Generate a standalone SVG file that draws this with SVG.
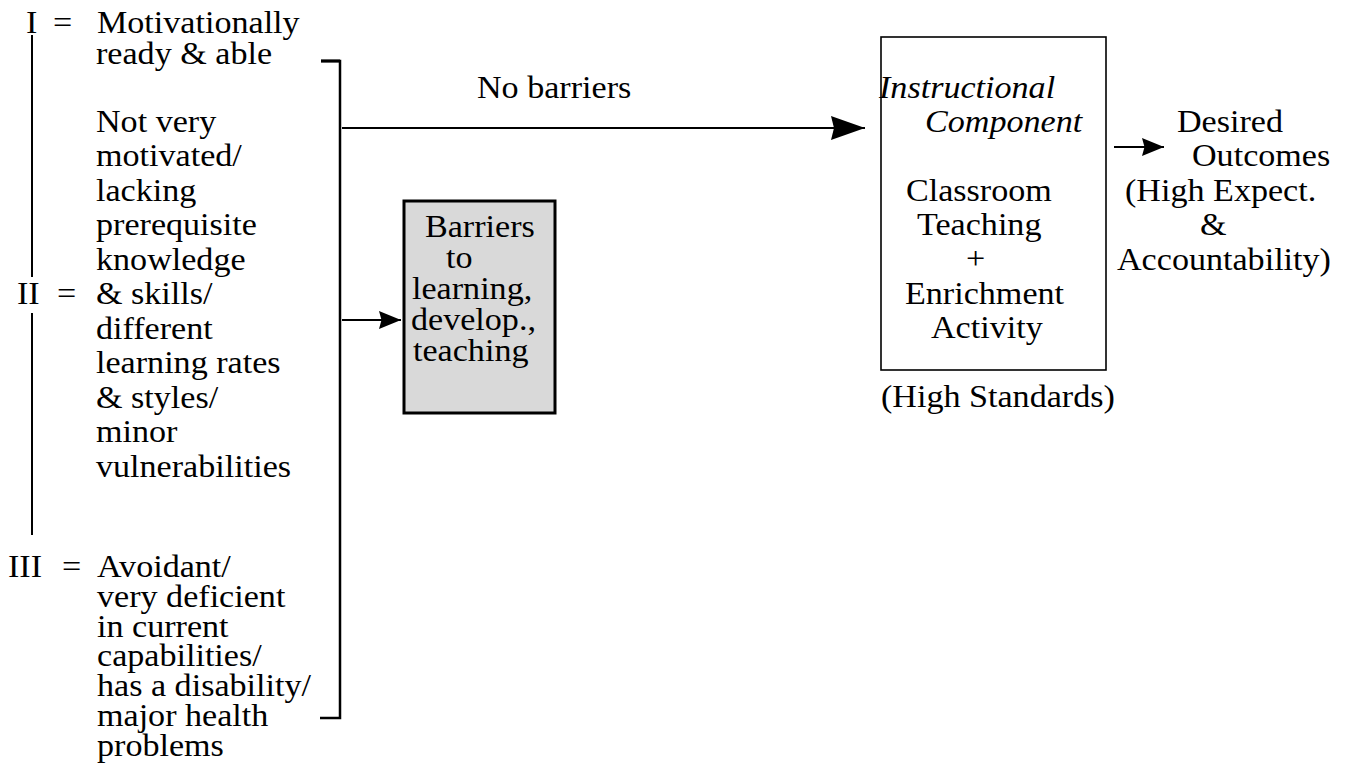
<svg xmlns="http://www.w3.org/2000/svg" width="1350" height="781" viewBox="0 0 1350 781">
  <style>
    .t { font-family: "Liberation Serif", "Times New Roman", serif; font-size: 31px; fill: #000; }
    .i { font-style: italic; }
    .ln { stroke: #000; fill: none; }
  </style>
  <defs>
    <marker id="headLong" markerUnits="userSpaceOnUse" markerWidth="38" markerHeight="26" refX="35" refY="13" orient="auto" overflow="visible">
      <path d="M1,1 L35,13 L1,25 L4,13 Z" fill="#000"/>
    </marker>
    <marker id="headShort" markerUnits="userSpaceOnUse" markerWidth="26" markerHeight="22" refX="23" refY="11" orient="auto" overflow="visible">
      <path d="M1,2 L23,11 L1,20 L3.5,11 Z" fill="#000"/>
    </marker>
  </defs>
  <rect width="1350" height="781" fill="#fff"/>

  <!-- Student groups -->
  <g id="group-I">
    <text class="t" transform="translate(26 33) scale(1.1 1)">I</text>
    <text class="t" transform="translate(53 33) scale(1.1 1)">=</text>
    <text class="t" transform="translate(97 33) scale(1.1 1)">Motivationally</text>
    <text class="t" transform="translate(96 64) scale(1.1 1)">ready &amp; able</text>
  </g>

  <g id="group-II">
    <text class="t" transform="translate(17 304) scale(1.1 1)">II</text>
    <text class="t" transform="translate(57 304) scale(1.1 1)">=</text>
    <text class="t" transform="translate(96 131.5) scale(1.1 1)">Not very</text>
    <text class="t" transform="translate(96 166) scale(1.1 1)">motivated/</text>
    <text class="t" transform="translate(96 200.5) scale(1.1 1)">lacking</text>
    <text class="t" transform="translate(96 235) scale(1.1 1)">prerequisite</text>
    <text class="t" transform="translate(96 269.5) scale(1.1 1)">knowledge</text>
    <text class="t" transform="translate(96 304) scale(1.1 1)">&amp; skills/</text>
    <text class="t" transform="translate(96 338.5) scale(1.1 1)">different</text>
    <text class="t" transform="translate(96 373) scale(1.1 1)">learning rates</text>
    <text class="t" transform="translate(96 407.5) scale(1.1 1)">&amp; styles/</text>
    <text class="t" transform="translate(96 442) scale(1.1 1)">minor</text>
    <text class="t" transform="translate(96 476.5) scale(1.1 1)">vulnerabilities</text>
  </g>

  <g id="group-III">
    <text class="t" transform="translate(8 577) scale(1.1 1)">III</text>
    <text class="t" transform="translate(62 577) scale(1.1 1)">=</text>
    <text class="t" transform="translate(97 577) scale(1.1 1)">Avoidant/</text>
    <text class="t" transform="translate(97 606.8) scale(1.1 1)">very deficient</text>
    <text class="t" transform="translate(97 636.6) scale(1.1 1)">in current</text>
    <text class="t" transform="translate(97 666.4) scale(1.1 1)">capabilities/</text>
    <text class="t" transform="translate(97 696.2) scale(1.1 1)">has a disability/</text>
    <text class="t" transform="translate(97 726) scale(1.1 1)">major health</text>
    <text class="t" transform="translate(97 755.8) scale(1.1 1)">problems</text>
  </g>

  <!-- Barriers box -->
  <g id="barriers">
    <rect x="404" y="201" width="151" height="212" fill="#d9d9d9" stroke="#000" stroke-width="3"/>
    <text class="t" transform="translate(425 237) scale(1.1 1)">Barriers</text>
    <text class="t" transform="translate(446 268) scale(1.1 1)">to</text>
    <text class="t" transform="translate(412 299) scale(1.1 1)">learning,</text>
    <text class="t" transform="translate(411 330) scale(1.1 1)">develop.,</text>
    <text class="t" transform="translate(413 361) scale(1.1 1)">teaching</text>
  </g>

  <!-- Instructional component -->
  <g id="instructional">
    <rect x="881" y="37" width="225" height="333" fill="none" stroke="#000" stroke-width="1.6"/>
    <text class="t i" transform="translate(879 98) scale(1.1 1)">Instructional</text>
    <text class="t i" transform="translate(925 131.5) scale(1.1 1)">Component</text>
    <text class="t" transform="translate(906 201) scale(1.1 1)">Classroom</text>
    <text class="t" transform="translate(917 235) scale(1.1 1)">Teaching</text>
    <text class="t" transform="translate(966 269) scale(1.1 1)">+</text>
    <text class="t" transform="translate(905 304) scale(1.1 1)">Enrichment</text>
    <text class="t" transform="translate(931 338) scale(1.1 1)">Activity</text>
    <text class="t" transform="translate(881 407) scale(1.1 1)">(High Standards)</text>
  </g>

  <!-- Outcomes -->
  <g id="outcomes">
    <text class="t" transform="translate(1177 131.5) scale(1.1 1)">Desired</text>
    <text class="t" transform="translate(1192 166) scale(1.1 1)">Outcomes</text>
    <text class="t" transform="translate(1125 201) scale(1.1 1)">(High Expect.</text>
    <text class="t" transform="translate(1200 235) scale(1.1 1)">&amp;</text>
    <text class="t" transform="translate(1117 269.5) scale(1.1 1)">Accountability)</text>
  </g>

  <!-- Connectors -->
  <g id="connectors">
    <!-- left spine of the I/II/III scale -->
    <line class="ln" x1="32" y1="35" x2="32" y2="277" stroke-width="2"/>
    <line class="ln" x1="32" y1="313" x2="32" y2="535" stroke-width="2"/>
    <!-- right bracket -->
    <path class="ln" d="M321,61 H340 V718 H320" stroke-width="2.5"/>
    <line class="ln" x1="321" y1="61" x2="340" y2="61" stroke-width="3"/>
    <!-- no barriers arrow -->
    <line class="ln" x1="342" y1="128" x2="865" y2="128" stroke-width="1.8" marker-end="url(#headLong)"/>
    <text class="t" transform="translate(477 98) scale(1.1 1)">No barriers</text>
    <!-- arrow into barriers box -->
    <line class="ln" x1="342" y1="320" x2="401" y2="320" stroke-width="2" marker-end="url(#headShort)"/>
    <!-- arrow to outcomes -->
    <line class="ln" x1="1114" y1="147" x2="1164" y2="147" stroke-width="2" marker-end="url(#headShort)"/>
  </g>
</svg>
